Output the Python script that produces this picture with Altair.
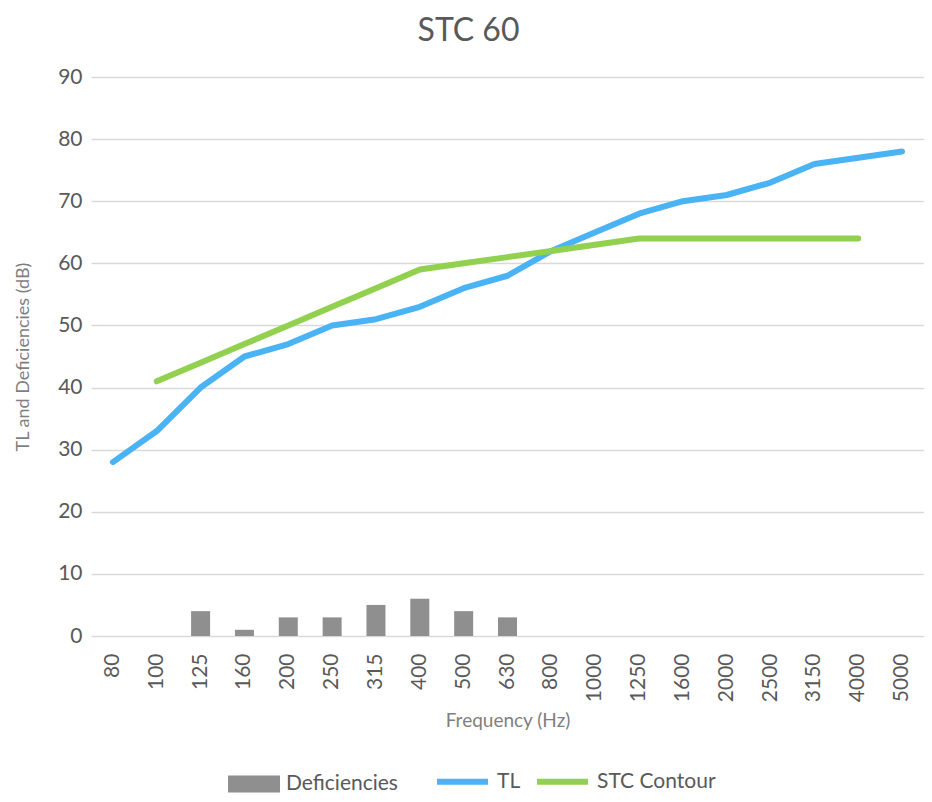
import altair as alt
import pandas as pd

freqs = ["80", "100", "125", "160", "200", "250", "315", "400", "500", "630",
         "800", "1000", "1250", "1600", "2000", "2500", "3150", "4000", "5000"]
tl_values = [28, 33, 40, 45, 47, 50, 51, 53, 56, 58, 62, 65, 68, 70, 71, 73, 76, 77, 78]
stc_freqs = ["100", "125", "160", "200", "250", "315", "400", "500", "630",
             "800", "1000", "1250", "1600", "2000", "2500", "3150", "4000"]
stc_values = [41, 44, 47, 50, 53, 56, 59, 60, 61, 62, 63, 64, 64, 64, 64, 64, 64]
def_freqs = ["125", "160", "200", "250", "315", "400", "500", "630"]
def_values = [4, 1, 3, 3, 5, 6, 4, 3]

FONT = "Lato"
TXT = "#595959"

lines_df = pd.concat([
    pd.DataFrame({"freq": freqs, "value": tl_values, "series": "TL"}),
    pd.DataFrame({"freq": stc_freqs, "value": stc_values, "series": "STC Contour"}),
])
bars_df = pd.DataFrame({"freq": def_freqs, "value": def_values, "series": "Deficiencies"})

x_enc = alt.X("freq:N", sort=freqs,
              scale=alt.Scale(domain=freqs, paddingInner=0, paddingOuter=0),
              axis=alt.Axis(title="Frequency (Hz)", labelAngle=-90, labelFontSize=21,
                            labelFont=FONT, labelColor=TXT, labelPadding=17,
                            ticks=False, domain=False, grid=False,
                            titleFont=FONT, titleFontSize=19, titleColor="#7f7f7f",
                            titleFontWeight="normal", titleY=84, titleBaseline="middle"))
y_scale = alt.Scale(domain=[0, 90], nice=False, zero=True)
y_axis = alt.Axis(title="TL and Deficiencies (dB)", values=list(range(0, 100, 10)),
                  labelFontSize=21, labelFont=FONT, labelColor=TXT, labelPadding=9,
                  ticks=False, domain=False, grid=True, gridColor="#d9d9d9", gridWidth=1.3,
                  titleFont=FONT, titleFontSize=18, titleColor="#7f7f7f",
                  titleFontWeight="normal", titleX=-68, titleBaseline="middle")

bars = alt.Chart(bars_df).mark_bar(size=19).encode(
    x=x_enc,
    y=alt.Y("value:Q", scale=y_scale, axis=y_axis),
    fill=alt.Fill("series:N",
                  scale=alt.Scale(domain=["Deficiencies"], range=["#8f8f8f"]),
                  legend=alt.Legend(orient="none", legendX=137, legendY=681,
                                    direction="horizontal", title=None, padding=0,
                                    symbolType="M-1,-0.33H1V0.33H-1Z", symbolSize=2704,
                                    symbolStrokeWidth=0, symbolOpacity=1,
                                    labelFont=FONT, labelFontSize=21, labelColor=TXT,
                                    labelOffset=6)),
)

lines = alt.Chart(lines_df).mark_line(strokeWidth=6, strokeCap="round", strokeJoin="round").encode(
    x=alt.X("freq:N", sort=freqs),
    y=alt.Y("value:Q"),
    stroke=alt.Stroke("series:N",
                      scale=alt.Scale(domain=["TL", "STC Contour"], range=["#4ab3f4", "#92d050"]),
                      legend=alt.Legend(orient="none", legendX=343, legendY=676,
                                        direction="horizontal", title=None, padding=0,
                                        symbolType="stroke", symbolSize=2601,
                                        symbolStrokeWidth=6, columnPadding=4,
                                        labelFont=FONT, labelFontSize=21, labelColor=TXT,
                                        labelOffset=6)),
    detail="series:N",
)

chart = alt.layer(bars, lines).properties(
    width=833, height=559,
    padding={"left": 83, "top": 69, "right": 0, "bottom": 158},
    autosize=alt.AutoSizeParams(type="none"),
    title=alt.TitleParams("STC 60", fontSize=32, font=FONT, color=TXT,
                          fontWeight="normal", offset=18, dx=-39, anchor="middle"),
).configure_view(stroke=None)

chart.save("out.html", embed_options={"renderer": "svg", "actions": False})
